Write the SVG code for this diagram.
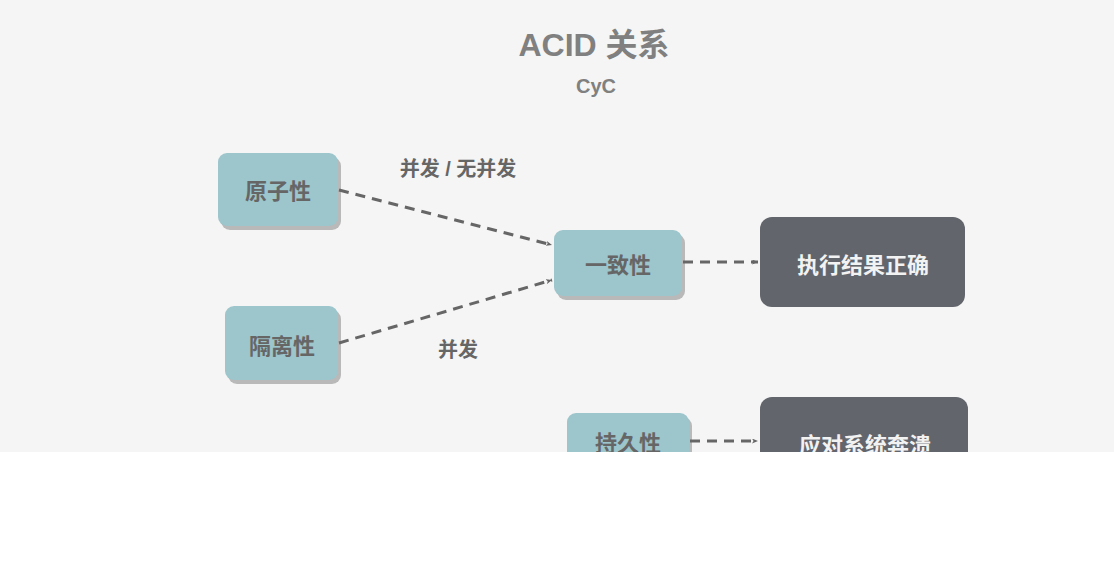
<svg xmlns="http://www.w3.org/2000/svg" width="1114" height="563" viewBox="0 0 1114 563">
<defs>
<style>
.n{fill:#9cc5cc}
.s{fill:#b9b9b9}
.d{fill:#62656c}
.t{font-family:"Liberation Sans","Noto Sans CJK SC",sans-serif;font-weight:bold;text-anchor:middle}
.lt{fill:#666;font-size:22px}
.wt{fill:#f2f2f2;font-size:22px}
.e{stroke:#666;stroke-width:3;stroke-dasharray:10 7;fill:none}
</style>
<marker id="a" viewBox="0 0 12 10" refX="12" refY="5" markerWidth="6" markerHeight="5" orient="auto" markerUnits="userSpaceOnUse">
<path d="M0,0 L12,5 L0,10 L3,5 Z" fill="#666"/>
</marker>
<clipPath id="c"><rect x="0" y="0" width="1114" height="452"/></clipPath>
</defs>
<rect width="1114" height="563" fill="#fff"/>
<g clip-path="url(#c)">
<rect width="1114" height="452" fill="#f5f5f5"/>
<text class="t" x="594" y="56" font-size="32" fill="#808080">ACID 关系</text>
<text class="t" x="596" y="93" font-size="20" fill="#808080">CyC</text>
<g id="n1"><rect class="s" x="221" y="157" width="120" height="73" rx="9"/><rect class="n" x="218" y="153" width="120" height="73" rx="9"/><text class="t lt" x="278" y="199">原子性</text></g>
<g id="n2"><rect class="s" x="228" y="310" width="113" height="74" rx="9"/><rect class="n" x="225" y="306" width="113" height="74" rx="9"/><text class="t lt" x="282" y="354">隔离性</text></g>
<g id="n3"><rect class="s" x="557" y="234" width="128" height="66" rx="9"/><rect class="n" x="554" y="230" width="128" height="66" rx="9"/><text class="t lt" x="618" y="273">一致性</text></g>
<g id="n4"><rect class="d" x="760" y="217" width="205" height="90" rx="12"/><text class="t wt" x="863" y="273">执行结果正确</text></g>
<g id="n5"><rect class="s" x="570" y="417" width="122" height="70" rx="9"/><rect class="n" x="567" y="413" width="122" height="70" rx="9"/><text class="t lt" x="628" y="451">持久性</text></g>
<g id="n6"><rect class="d" x="760" y="397" width="208" height="90" rx="12"/><text class="t wt" x="865" y="453">应对系统奔溃</text></g>
<g id="edges">
<path class="e" d="M339,190 L552,245" marker-end="url(#a)"/>
<path class="e" d="M339,343 L552,280" marker-end="url(#a)"/>
<path class="e" d="M683,262 L758,262" marker-end="url(#a)"/>
<path class="e" d="M690,441 L758,441" marker-end="url(#a)"/>
<text class="t" x="458" y="176" font-size="20" fill="#666">并发 / 无并发</text>
<text class="t" x="458" y="357" font-size="20" fill="#666">并发</text>
</g>
</g>
</svg>
